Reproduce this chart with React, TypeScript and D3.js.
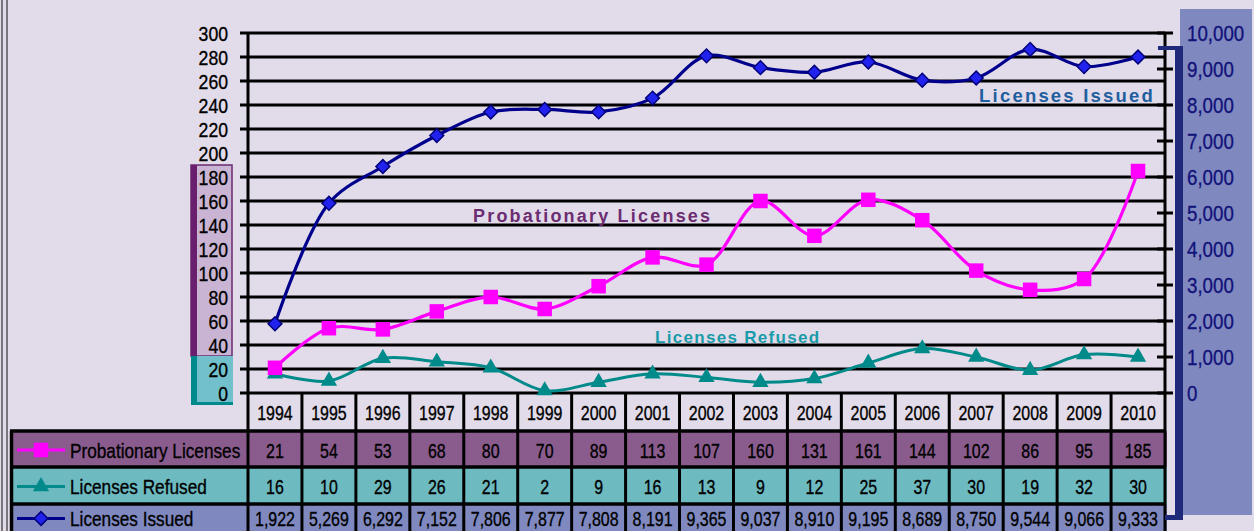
import React, { useEffect } from "react";
import * as d3 from "d3";

const years = ["1994","1995","1996","1997","1998","1999","2000","2001","2002","2003","2004","2005","2006","2007","2008","2009","2010"];
const probationary = [21,54,53,68,80,70,89,113,107,160,131,161,144,102,86,95,185];
const refused = [16,10,29,26,21,2,9,16,13,9,12,25,37,30,19,32,30];
const issued = [1922,5269,6292,7152,7806,7877,7808,8191,9365,9037,8910,9195,8689,8750,9544,9066,9333];
const leftTicks = d3.range(0, 301, 20);
const rightTicks = d3.range(0, 10001, 1000);
const seriesNames = ["Probationary Licenses", "Licenses Refused", "Licenses Issued"];

const W = 1254, H = 531;
const X0 = 248, X1 = 1165, YT = 33, YB = 393;
const BG = "#E2DBE9";
const SANS = "'Liberation Sans', Arial, sans-serif";

function T(props: { x: number; y: number; s?: number; size: number; anchor?: string; fill?: string; children: React.ReactNode }) {
  const { x, y, s = 0.8, size, anchor = "start", fill = "#000", children } = props;
  return (
    <text transform={`translate(${x},${y}) scale(${s},1)`} dy="0.36em" textAnchor={anchor as any} fontFamily={SANS} fontSize={size} fill={fill} stroke={fill} strokeWidth={0.35}>
      {children}
    </text>
  );
}

export default function App() {
  useEffect(() => {
    document.body.style.margin = "0";
    document.body.style.overflow = "hidden";
  }, []);

  const x = d3.scaleBand<string>().domain(years).range([X0, X1]);
  const yL = d3.scaleLinear().domain([0, 300]).range([YB, YT]);
  const yR = d3.scaleLinear().domain([0, 10000]).range([YB, YT]);
  const cx = (i: number) => (x(years[i]) as number) + x.bandwidth() / 2;

  const lineL = d3.line<number>().x((_, i) => cx(i)).y((d) => yL(d)).curve(d3.curveCatmullRom.alpha(0.5));
  const lineR = d3.line<number>().x((_, i) => cx(i)).y((d) => yR(d)).curve(d3.curveCatmullRom.alpha(0.5));

  const sq = d3.symbol().type(d3.symbolSquare).size(210)() as string;
  const tri = d3.symbol().type(d3.symbolTriangle).size(115)() as string;
  const dia = d3.symbol().type(d3.symbolSquare).size(95)() as string;

  const rowTops = [393, 431, 467, 504, 540];
  const rowFills = [BG, "#8A5C8E", "#6DBAC0", "#7F89BF"];
  const fmt = d3.format(",");
  const rowMid = (k: number) => (rowTops[k + 1] + Math.min(rowTops[k + 2], H)) / 2 + 1;

  const markerFor = (k: number, px: number, py: number) => {
    if (k === 0) return <path d={sq} transform={`translate(${px},${py})`} fill="#FF00FF" />;
    if (k === 1) return <path d={tri} transform={`translate(${px},${py})`} fill="#008A8A" />;
    return <path d={dia} transform={`translate(${px},${py}) rotate(45)`} fill="#2222EE" stroke="#00007A" strokeWidth={1.5} />;
  };

  return (
    <svg width={W} height={H} style={{ display: "block" }}>
      <rect x={0} y={0} width={W} height={H} fill={BG} />
      <line x1={2} y1={0} x2={2} y2={H} stroke="#555" strokeWidth={1.5} />
      <line x1={7} y1={0} x2={7} y2={H} stroke="#555" strokeWidth={1.5} />

      <rect x={1180} y={9} width={72} height={506} fill="#7F89BF" />

      <rect x={191} y={165} width={41} height={191} fill="#C9B5D3" stroke="#6A2A70" strokeWidth={1.5} />
      <rect x={191} y={165} width={6} height={191} fill="#6A1F6E" />
      <rect x={191} y={356} width={42} height={49} fill="#72C0CC" />
      <rect x={191} y={356} width={6} height={49} fill="#008A8C" />
      <rect x={191} y={402} width={42} height={3} fill="#008A8C" />

      {rowFills.map((f, r) => (
        <rect key={"row" + r} x={r === 0 ? X0 : 10} y={rowTops[r]} width={(r === 0 ? X1 : X1 + 2) - (r === 0 ? X0 : 10)} height={rowTops[r + 1] - rowTops[r]} fill={f} />
      ))}

      {leftTicks.map((t) => (
        <line key={"g" + t} x1={240} x2={X1} y1={yL(t)} y2={yL(t)} stroke="#000" strokeWidth={3} />
      ))}
      {rightTicks.map((t) => (
        <line key={"rt" + t} x1={1157} x2={1173} y1={yR(t)} y2={yR(t)} stroke="#000" strokeWidth={3} />
      ))}

      {[431, 467, 504].map((yy) => (
        <line key={"h" + yy} x1={10} x2={X1} y1={yy} y2={yy} stroke="#000" strokeWidth={3.5} />
      ))}
      <line x1={11.5} x2={11.5} y1={431} y2={H} stroke="#000" strokeWidth={3.5} />
      {years.map((yr, i) => (
        <line key={"v" + yr} x1={x(yr) as number} x2={x(yr) as number} y1={i === 0 ? YT : YB} y2={H} stroke="#000" strokeWidth={3} />
      ))}
      <line x1={X1} x2={X1} y1={YT - 1} y2={H} stroke="#000" strokeWidth={3} />

      <rect x={1175} y={46} width={8} height={474} fill="#1F2A7A" />
      <rect x={1158} y={46} width={25} height={4} fill="#1F2A7A" />
      <rect x={1165} y={515} width={18} height={5} fill="#1F2A7A" />

      {leftTicks.map((t) => (
        <T key={"lt" + t} x={228} y={yL(t)} size={21} s={0.84} anchor="end">{t}</T>
      ))}
      {rightTicks.map((t) => (
        <T key={"rl" + t} x={1187} y={yR(t)} size={22} s={0.85} fill="#12127A">{fmt(t)}</T>
      ))}

      <path d={lineR(issued) as string} fill="none" stroke="#00008C" strokeWidth={3.2} />
      <path d={lineL(probationary) as string} fill="none" stroke="#FF00FF" strokeWidth={3.2} />
      <path d={lineL(refused) as string} fill="none" stroke="#008A8A" strokeWidth={3} />
      {refused.map((v, i) => <g key={"mr" + i}>{markerFor(1, cx(i), yL(v))}</g>)}
      {probationary.map((v, i) => <g key={"mp" + i}>{markerFor(0, cx(i), yL(v))}</g>)}
      {issued.map((v, i) => <g key={"mi" + i}>{markerFor(2, cx(i), yR(v))}</g>)}

      <text x={1155} y={102} textAnchor="end" fontFamily={SANS} fontWeight="bold" fontSize={18.5} letterSpacing={2.2} fill="#1F5FA0">{seriesNames[2]}</text>
      <text x={473} y={222} fontFamily={SANS} fontWeight="bold" fontSize={18} letterSpacing={2.2} fill="#6B2C71">{seriesNames[0]}</text>
      <text x={655} y={343} fontFamily={SANS} fontWeight="bold" fontSize={17} letterSpacing={1.3} fill="#1A9BAA">{seriesNames[1]}</text>

      {years.map((yr, i) => (
        <T key={"yr" + yr} x={cx(i)} y={412} size={21} s={0.76} anchor="middle">{yr}</T>
      ))}
      {[probationary, refused, issued].map((arr, k) => (
        <g key={"rowt" + k}>
          {arr.map((v, i) => (
            <T key={i} x={cx(i)} y={rowMid(k)} size={21} s={0.76} anchor="middle">{fmt(v)}</T>
          ))}
        </g>
      ))}
      {seriesNames.map((n, k) => {
        const yy = rowMid(k);
        const col = k === 0 ? "#FF00FF" : k === 1 ? "#008A8A" : "#00008C";
        return (
          <g key={"lg" + k}>
            <line x1={17} x2={65} y1={yy} y2={yy} stroke={col} strokeWidth={3} />
            {markerFor(k, 41, yy)}
            <T x={70} y={yy} size={21} s={0.82}>{n}</T>
          </g>
        );
      })}
    </svg>
  );
}
